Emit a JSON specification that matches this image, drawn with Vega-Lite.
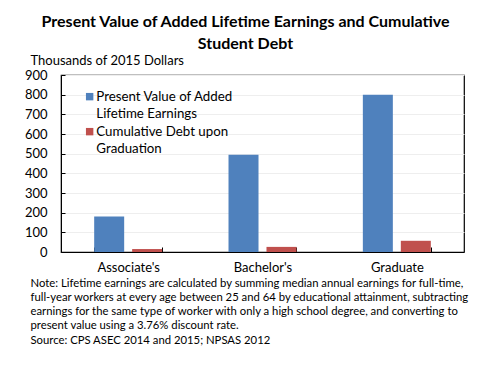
{
  "$schema": "https://vega.github.io/schema/vega-lite/v6.json",
  "width": 403,
  "height": 177,
  "autosize": "none",
  "padding": {"left": 61, "top": 75, "right": 27, "bottom": 115},
  "background": "white",
  "title": {
    "text": ["Present Value of Added Lifetime Earnings and Cumulative", "Student Debt"],
    "font": "Lato",
    "fontSize": 16,
    "fontWeight": "bold",
    "color": "black",
    "lineHeight": 22,
    "anchor": "middle",
    "frame": "group",
    "dx": -17,
    "offset": 2
  },
  "config": {
    "font": "Lato",
    "view": {"stroke": "black", "strokeWidth": 1.2},
    "axis": {"labelFont": "Lato", "titleFont": "Lato"}
  },
  "data": {
    "values": [
      {"degree": "Associate's", "series": "Present Value of Added Lifetime Earnings", "value": 180},
      {"degree": "Associate's", "series": "Cumulative Debt upon Graduation", "value": 15},
      {"degree": "Bachelor's", "series": "Present Value of Added Lifetime Earnings", "value": 495},
      {"degree": "Bachelor's", "series": "Cumulative Debt upon Graduation", "value": 26},
      {"degree": "Graduate", "series": "Present Value of Added Lifetime Earnings", "value": 800},
      {"degree": "Graduate", "series": "Cumulative Debt upon Graduation", "value": 57}
    ]
  },
  "mark": {"type": "bar"},
  "encoding": {
    "x": {
      "field": "degree",
      "type": "nominal",
      "sort": null,
      "scale": {"paddingInner": 0.494, "paddingOuter": 0.247},
      "axis": {
        "title": [
          "Note: Lifetime earnings are calculated by summing median annual earnings for full-time,",
          "full-year workers at every age between 25 and 64 by educational attainment, subtracting",
          "earnings for the same type of worker with only a high school degree, and converting to",
          "present value using a 3.76% discount rate.",
          "Source: CPS ASEC 2014 and 2015; NPSAS 2012"
        ],
        "titleFontSize": 11.3,
        "titleFontWeight": "normal",
        "titleColor": "black",
        "titleAlign": "left",
        "titleAnchor": "start",
        "titleX": -31,
        "titleY": 31,
        "titleBaseline": "middle",
        "titleLineHeight": 14.3,
        "labelAngle": 0,
        "labelFontSize": 13,
        "labelColor": "black",
        "labelPadding": 14,
        "tickBand": "extent",
        "tickSize": -5,
        "tickColor": "black",
        "domainColor": "black",
        "grid": false
      }
    },
    "xOffset": {
      "field": "series",
      "type": "nominal",
      "sort": ["Present Value of Added Lifetime Earnings", "Cumulative Debt upon Graduation"],
      "scale": {"paddingInner": 0.21}
    },
    "y": {
      "field": "value",
      "type": "quantitative",
      "scale": {"domain": [0, 900], "nice": false},
      "axis": {
        "values": [0, 100, 200, 300, 400, 500, 600, 700, 800, 900],
        "title": "Thousands of 2015 Dollars",
        "titleAngle": 0,
        "titleAlign": "left",
        "titleAnchor": "start",
        "titleX": -31,
        "titleY": -11,
        "titleBaseline": "alphabetic",
        "titleFontSize": 13,
        "titleFontWeight": "normal",
        "titleColor": "black",
        "labelFontSize": 13,
        "labelColor": "black",
        "labelPadding": 18,
        "tickSize": -4,
        "tickColor": "black",
        "domainColor": "black",
        "gridColor": "#eeeeee",
        "gridWidth": 1
      }
    },
    "color": {
      "field": "series",
      "type": "nominal",
      "sort": ["Present Value of Added Lifetime Earnings", "Cumulative Debt upon Graduation"],
      "scale": {"range": ["#4F81BD", "#C0504D"]},
      "legend": {
        "title": null,
        "orient": "none",
        "legendX": 22,
        "legendY": 15,
        "padding": 0,
        "symbolType": "square",
        "symbolSize": 55,
        "symbolStrokeWidth": 0,
        "labelFontSize": 13.3,
        "labelColor": "black",
        "labelLimit": 300,
        "labelBaseline": "top",
        "labelOffset": 0,
        "rowPadding": 4,
        "labelExpr": "datum.label == 'Present Value of Added Lifetime Earnings' ? ['Present Value of Added', 'Lifetime Earnings'] : ['Cumulative Debt upon', 'Graduation']",
        "encode": {"labels": {"update": {"lineHeight": {"value": 17}, "dy": {"value": -7}}}}
      }
    }
  }
}
